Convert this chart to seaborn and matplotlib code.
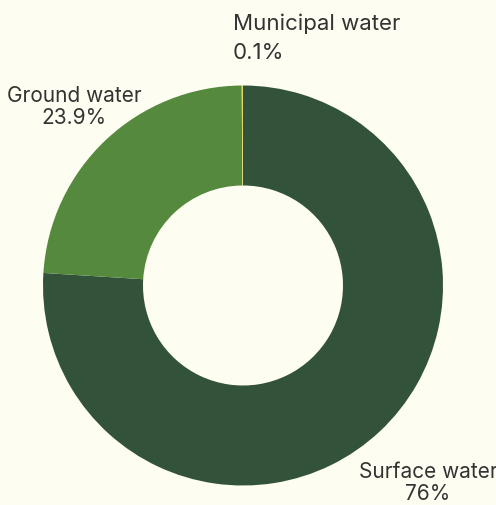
import matplotlib
matplotlib.use("Agg")
import matplotlib.pyplot as plt
import seaborn as sns

# Data
categories = ["Surface water", "Ground water", "Municipal water"]
values = [76.0, 23.9, 0.1]
pct_labels = ["76%", "23.9%", "0.1%"]
colors = ["#33523A", "#558A3E", "#E3D66B"]

BG = "#FEFDF1"
TEXT = "#333333"

sns.set_theme(style="white")
plt.rcParams["font.family"] = ["Inter", "DejaVu Sans"]

fig = plt.figure(figsize=(4.96, 5.05), dpi=100, facecolor=BG)
ax = fig.add_axes([0, 0, 1, 1])
ax.set_facecolor(BG)

ax.pie(values, colors=colors, startangle=90, counterclock=False, radius=1.0,
       wedgeprops=dict(width=0.5, edgecolor="none", linewidth=0))

# pixel-to-data mapping: center at (243, 285.5) px, radius 200 px
cx, cy, r = 243.0, 285.5, 200.0
W, H = 496, 505
ax.set_xlim(-cx / r, (W - cx) / r)
ax.set_ylim(-(H - cy) / r, cy / r)
ax.set_aspect("equal")
ax.axis("off")

def px(x, y):
    return (x - cx) / r, (cy - y) / r

# Surface water label
x, y = px(428, 483)
ax.text(x, y, f"{categories[0]}\n{pct_labels[0]}", ha="center", va="center",
        fontsize=15, color=TEXT, linespacing=1.17)
# Ground water label
x, y = px(74, 107)
ax.text(x, y, f"{categories[1]}\n{pct_labels[1]}", ha="center", va="center",
        fontsize=15, color=TEXT, linespacing=1.17)
# Municipal water label
x, y = px(233, 38)
ax.text(x, y, f"{categories[2]}\n{pct_labels[2]}", ha="left", va="center",
        fontsize=16, color=TEXT, linespacing=1.55)

fig.savefig("out.png", dpi=100, facecolor=BG)
